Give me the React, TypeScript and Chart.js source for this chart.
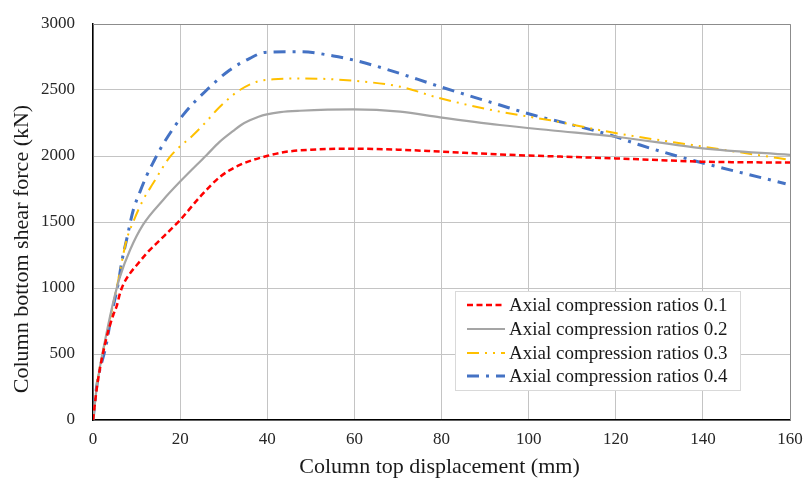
import React, { useEffect, useRef } from "react";
import { Chart, registerables } from "chart.js";

Chart.register(...registerables);

const seriesLabels = [
  "Axial compression ratios 0.1",
  "Axial compression ratios 0.2",
  "Axial compression ratios 0.3",
  "Axial compression ratios 0.4",
];

const xTitle = "Column top displacement (mm)";
const yTitle = "Column bottom shear force (kN)";

const xTickValues = [0, 20, 40, 60, 80, 100, 120, 140, 160];
const yTickValues = [0, 500, 1000, 1500, 2000, 2500, 3000];

const r01X = [0, 1, 3, 4.7, 5.4, 6.2, 7, 8.5, 10.4, 12.3, 15.4, 17.7, 20, 24.6, 29.2, 33.7, 39.9, 44, 50, 60, 70, 80, 93.4, 105, 120, 140, 160];
const r01Y = [0, 270, 610, 800, 858, 960, 1030, 1111, 1187, 1262, 1364, 1439, 1515, 1692, 1843, 1932, 2000, 2030, 2048, 2055, 2048, 2033, 2012, 1998, 1982, 1957, 1950];

const r02X = [0, 1, 3, 4.7, 6.2, 8.5, 11.5, 16.1, 20, 26.1, 29, 32.2, 34, 36, 38, 39.9, 43, 47.5, 59.7, 70.5, 79.7, 93.4, 105, 120.2, 140, 160];
const r02Y = [0, 280, 640, 900, 1086, 1288, 1480, 1667, 1806, 2008, 2105, 2190, 2235, 2270, 2297, 2315, 2333, 2343, 2353, 2336, 2293, 2235, 2195, 2146, 2058, 2008];

const r03X = [0, 1, 3.1, 5.8, 7.7, 9.25, 11.5, 13.8, 17.7, 23, 26, 28.4, 31, 33.7, 37.6, 41.4, 47.5, 59.7, 70.5, 79.7, 93.4, 105, 120.2, 140, 160];
const r03Y = [0, 290, 640, 1060, 1364, 1502, 1667, 1793, 1995, 2159, 2260, 2348, 2430, 2500, 2563, 2581, 2588, 2570, 2525, 2437, 2336, 2270, 2172, 2071, 1970];

const r04X = [0, 0.84, 3.1, 4.3, 5.8, 6.6, 7.7, 9.25, 10.8, 12.3, 13.8, 16.1, 20.7, 26.1, 31.4, 36, 39.5, 47.5, 55.2, 59.8, 67.4, 79.7, 93.4, 101, 108.7, 118.7, 125.6, 133.2, 140.9, 148.5, 159];
const r04Y = [0, 252, 581, 808, 1035, 1199, 1364, 1591, 1730, 1850, 1950, 2090, 2311, 2500, 2652, 2740, 2785, 2790, 2758, 2727, 2657, 2525, 2386, 2311, 2247, 2159, 2083, 2008, 1939, 1876, 1790];

const seriesColors = ["#ff0000", "#a5a5a5", "#ffc000", "#4472c4"];
const seriesWidths = [2.5, 2.2, 2, 3];
const seriesDashes: number[][] = [[6, 3.5], [], [12, 6, 2, 6, 2, 6], [12, 7, 3, 7]];

const FONT = '"Liberation Serif", "DejaVu Serif", serif';

function pts(xs: number[], ys: number[]) {
  return xs.map((x, i) => ({ x, y: ys[i] }));
}

const overlayPlugin = {
  id: "overlay",
  beforeDatasetsDraw(chart: any) {
    const { ctx, chartArea } = chart;
    ctx.save();
    ctx.strokeStyle = "#8c8c8c";
    ctx.lineWidth = 1;
    ctx.beginPath();
    ctx.moveTo(chartArea.left, chartArea.top + 0.5);
    ctx.lineTo(chartArea.right + 0.5, chartArea.top + 0.5);
    ctx.lineTo(chartArea.right + 0.5, chartArea.bottom);
    ctx.stroke();
    ctx.restore();
  },
  afterDraw(chart: any) {
    const { ctx, chartArea } = chart;
    ctx.save();
    ctx.fillStyle = "#1a1a1a";
    ctx.font = `22px ${FONT}`;
    ctx.textAlign = "center";
    ctx.textBaseline = "middle";
    ctx.fillText(xTitle, (chartArea.left + chartArea.right) / 2 - 2, 467);
    ctx.save();
    ctx.translate(22, 249);
    ctx.rotate(-Math.PI / 2);
    ctx.fillText(yTitle, 0, 0);
    ctx.restore();

    // legend
    const lx = 455, ly = 291, lw = 285, lh = 99;
    ctx.fillStyle = "#ffffff";
    ctx.fillRect(lx, ly, lw, lh);
    ctx.strokeStyle = "#d9d9d9";
    ctx.lineWidth = 1;
    ctx.strokeRect(lx + 0.5, ly + 0.5, lw, lh);
    const rows = [305, 329, 353, 376];
    ctx.font = `19px ${FONT}`;
    ctx.textAlign = "left";
    ctx.textBaseline = "middle";
    chart.data.datasets.forEach((ds: any, i: number) => {
      const y = rows[i];
      ctx.save();
      ctx.strokeStyle = ds.borderColor;
      ctx.lineWidth = ds.borderWidth;
      ctx.setLineDash(ds.borderDash || []);
      ctx.beginPath();
      ctx.moveTo(467, y);
      ctx.lineTo(505, y);
      ctx.stroke();
      ctx.restore();
      ctx.fillStyle = "#1a1a1a";
      ctx.fillText(ds.label, 509, y + 1);
    });
    ctx.restore();
  },
};

export default function App() {
  const ref = useRef<HTMLCanvasElement | null>(null);

  useEffect(() => {
    document.body.style.margin = "0";
    const canvas = ref.current!;
    const xs = [r01X, r02X, r03X, r04X];
    const ys = [r01Y, r02Y, r03Y, r04Y];
    const chart = new Chart(canvas, {
      type: "line",
      data: {
        datasets: seriesLabels.map((label, i) => ({
          label,
          data: pts(xs[i], ys[i]),
          borderColor: seriesColors[i],
          backgroundColor: seriesColors[i],
          borderWidth: seriesWidths[i],
          borderDash: seriesDashes[i],
          pointRadius: 0,
          fill: false,
          cubicInterpolationMode: "monotone" as const,
        })),
      },
      options: {
        responsive: false,
        animation: false,
        devicePixelRatio: 1,
        layout: { padding: { top: 24, right: 13, left: 0, bottom: 0 } },
        plugins: {
          legend: { display: false },
          tooltip: { enabled: false },
        },
        scales: {
          x: {
            type: "linear",
            min: 0,
            max: 160,
            afterFit: (s: any) => {
              s.height = 61;
              s.paddingLeft = 0;
              s.paddingRight = 0;
            },
            afterBuildTicks: (s: any) => {
              s.ticks = xTickValues.map((v) => ({ value: v }));
            },
            ticks: {
              padding: 9,
              font: { family: FONT, size: 17 },
              color: "#262626",
              maxRotation: 0,
              callback: (v: any) => String(v),
            },
            grid: { color: "#c4c4c4", lineWidth: 1, drawTicks: false },
            border: { color: "#000000", width: 1.5 },
          },
          y: {
            type: "linear",
            min: 0,
            max: 3000,
            afterFit: (s: any) => {
              s.width = 93;
              s.paddingTop = 0;
              s.paddingBottom = 0;
            },
            afterBuildTicks: (s: any) => {
              s.ticks = yTickValues.map((v) => ({ value: v }));
            },
            ticks: {
              padding: 18,
              font: { family: FONT, size: 17 },
              color: "#262626",
              callback: (v: any) => String(v),
            },
            grid: { color: "#c4c4c4", lineWidth: 1, drawTicks: false },
            border: { color: "#000000", width: 1.5 },
          },
        },
      },
      plugins: [overlayPlugin],
    });
    return () => chart.destroy();
  }, []);

  return (
    <div style={{ position: "absolute", left: 0, top: 0, width: 803, height: 481, background: "#fff" }}>
      <canvas ref={ref} width={803} height={481} style={{ width: 803, height: 481, display: "block" }} />
    </div>
  );
}
